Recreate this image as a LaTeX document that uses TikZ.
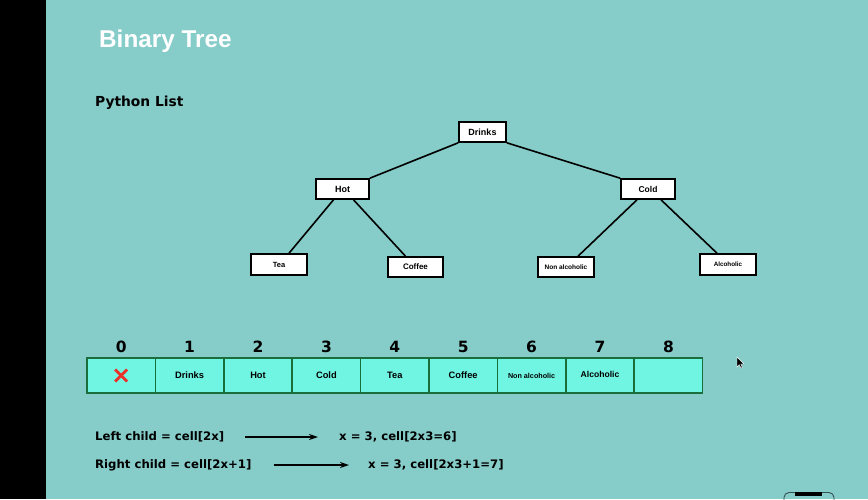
\documentclass[tikz,border=0pt]{standalone}
\usepackage{fontspec}
\setmainfont{Liberation Sans}
\newfontfamily\labelfont{DejaVu Sans}
\usetikzlibrary{arrows.meta}
\definecolor{bgteal}{HTML}{86CCC9}
\definecolor{cellfill}{HTML}{6FF5E1}
\definecolor{cellline}{HTML}{1A6E3C}
\definecolor{crossred}{HTML}{E8322A}
\newcommand{\fs}[1]{\fontsize{#1}{#1}\selectfont}

\begin{document}
\begin{tikzpicture}[x=1pt,y=-1pt,
  treenode/.style={draw=black, fill=white, line width=1.6pt, inner sep=0pt},
  cellbox/.style={draw=cellline, fill=cellfill, line width=1.5pt,
    minimum width=68.4pt, minimum height=35pt, inner sep=0pt,
    font=\bfseries\fs{9.3}},
  idx/.style={font=\labelfont\bfseries\fs{15.5}, inner sep=0pt, anchor=base},
  edge/.style={line width=1.6pt},
  rulefont/.style={font=\labelfont\bfseries\fs{11.7}, anchor=west, inner sep=0pt},
  ruleline/.style={line width=1.3pt, -{Stealth[length=9pt,width=6pt]}}
]
% page background and dark side strip
\fill[bgteal] (0,0) rectangle (868,499);
\fill[black] (0,0) rectangle (46,499);
\useasboundingbox (0,0) rectangle (868,499);

% headings
\node[anchor=west, text=white, font=\bfseries\fs{24.3}, inner sep=0pt] (title) at (99,41) {Binary Tree};
\node[anchor=west, font=\labelfont\bfseries\fs{13.8}, inner sep=0pt] (sub) at (95,103) {Python List};

% tree
\node[treenode, minimum width=47pt, minimum height=20pt, font=\bfseries\fs{9}] (drinks) at (482.5,132) {Drinks};
\node[treenode, minimum width=53pt, minimum height=20pt, font=\bfseries\fs{9}] (hot) at (342.5,189) {Hot};
\node[treenode, minimum width=54pt, minimum height=20pt, font=\bfseries\fs{8.5}] (cold) at (648,189) {Cold};
\node[treenode, minimum width=56pt, minimum height=21pt, font=\bfseries\fs{7.5}] (tea) at (279,264.5) {Tea};
\node[treenode, minimum width=55pt, minimum height=20pt, font=\bfseries\fs{8}] (coffee) at (415.5,267) {Coffee};
\node[treenode, minimum width=56pt, minimum height=20pt, font=\bfseries\fs{6.5}] (nonalc) at (566,267) {Non alcoholic};
\node[treenode, minimum width=56pt, minimum height=21pt, font=\bfseries\fs{6.3}] (alc) at (728,264.5) {Alcoholic};

\draw[edge] (drinks.south west) -- (hot.north east);
\draw[edge] (drinks.south east) -- (cold.north west);
\draw[edge] ([xshift=-9pt]hot.south) -- ([xshift=10pt]tea.north);
\draw[edge] ([xshift=11pt]hot.south) -- ([xshift=-10pt]coffee.north);
\draw[edge] ([xshift=-11pt]cold.south) -- ([xshift=12pt]nonalc.north);
\draw[edge] ([xshift=13pt]cold.south) -- ([xshift=-11pt]alc.north);

% list cells with their indices
\foreach \i/\t in {0/{},1/Drinks,2/Hot,3/Cold,4/Tea,5/Coffee,6/{\fs{7.2}Non alcoholic},7/{\raisebox{1.5pt}{\fs{8.6}Alcoholic}},8/{}}{
  \node[cellbox] (c\i) at ({121.2+68.4*\i},375.5) {\t};
  \node[idx] (n\i) at ([yshift=4.5pt]c\i.north) {\i};
}
\draw[crossred, line width=2.8pt] ([shift={(-6,-6)}]c0.center) -- ([shift={(6,6)}]c0.center);
\draw[crossred, line width=2.8pt] ([shift={(-6,6)}]c0.center) -- ([shift={(6,-6)}]c0.center);

% index rules
\node[rulefont] (lrule) at (95,437) {Left child = cell[2x]};
\node[rulefont] (lres) at (339,437) {x = 3, cell[2x3=6]};
\draw[ruleline] ([xshift=21pt]lrule.east) -- ([xshift=-21pt]lres.west);
\node[rulefont] (rrule) at (95,465) {Right child = cell[2x+1]};
\node[rulefont] (rres) at (368,465) {x = 3, cell[2x3+1=7]};
\draw[ruleline] ([xshift=22pt]rrule.east) -- ([xshift=-19pt]rres.west);

% pointer
\filldraw[fill=black, draw=white, line width=0.4pt]
  (737,357) -- (737,367) -- (739.3,364.6) -- (741,368.2) -- (742.4,367.5)
  -- (740.8,364) -- (744,364) -- cycle;

% control tab at the lower edge
\draw[draw=black!60!bgteal, line width=0.9pt, rounded corners=5pt]
  (784,503) -- (784,492.5) -- (834,492.5) -- (834,503);
\fill[black] (795,491.5) rectangle (822,496);
\end{tikzpicture}
\end{document}
